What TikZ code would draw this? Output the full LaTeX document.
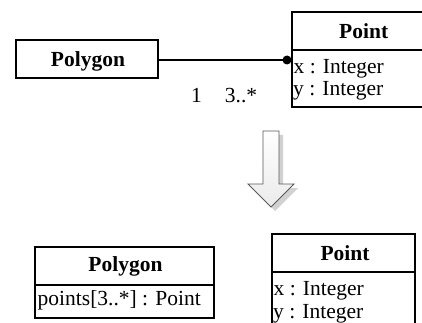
\documentclass[tikz,border=0pt]{standalone}
\usepackage{fontspec}
\setmainfont{Liberation Serif}
\begin{document}
\begin{tikzpicture}[x=1pt,y=-1pt,
  every node/.style={font=\fontsize{21.5}{25}\selectfont},
  box/.style={draw=black,line width=1.8pt,rectangle,inner sep=0pt},
  headtext/.style={font=\fontsize{21.5}{25}\selectfont\bfseries,inner sep=0pt,anchor=base},
  attr/.style={inner sep=0pt,anchor=base west},
  mult/.style={inner sep=0pt,anchor=base},
  conn/.style={draw=black,line width=1.1pt},
  enddot/.style={circle,fill=black,inner sep=0pt,minimum size=9pt}]
\useasboundingbox (0,0) rectangle (422,323);
\clip (0,0) rectangle (422,323);
% ---- top: Polygon -- Point association
\node[box,minimum width=142pt,minimum height=38pt] (poly) at (87,59) {};
\node[headtext] (polyname) at (88,66.7) {Polygon};
\node[box,minimum width=143pt,minimum height=38pt] (pthead) at (363.5,31) {};
\node[headtext] (ptname) at (363.7,38.3) {Point};
\node[box,minimum width=143pt,minimum height=57pt] (ptattr) at (363.5,78.5) {};
\node[attr] (ptx) at (293.5,73.3) {x : Integer};
\node[attr] (pty) at (293,96) {y : Integer};
\node[enddot] (dot) at (287,60) {};
\draw[conn] (poly.east |- dot.center) -- (dot.center);
\node[mult] (m1) at (196.4,103) {1};
\node[mult] (m2) at (241,103) {3..*};
% ---- arrow
\fill[black!18] (267,135) -- (283,135) -- (283,188) -- (298,188) -- (275,211) -- (252,188) -- (267,188) -- cycle;
\shade[top color=white,bottom color=black!8,draw=black!65,line width=0.8pt]
  (263,131) -- (279,131) -- (279,184) -- (294,184) -- (271,207) -- (248,184) -- (263,184) -- cycle;
% ---- bottom: Polygon with attribute, Point
\node[box,minimum width=179pt,minimum height=38.3pt] (poly2head) at (124.5,265.8) {};
\node[headtext] (poly2name) at (125.5,271.7) {Polygon};
\node[box,minimum width=179pt,minimum height=33pt] (poly2attr) at (124.5,301.5) {};
\node[attr] (poly2pts) at (37.5,305) {points[3..*] : Point};
\node[box,minimum width=143pt,minimum height=38pt] (pt2head) at (343.5,253) {};
\node[headtext] (pt2name) at (345,260.3) {Point};
\node[box,minimum width=143pt,minimum height=57pt] (pt2attr) at (343.5,300.5) {};
\node[attr] (pt2x) at (273.5,295.3) {x : Integer};
\node[attr] (pt2y) at (273,318) {y : Integer};
\end{tikzpicture}
\end{document}
